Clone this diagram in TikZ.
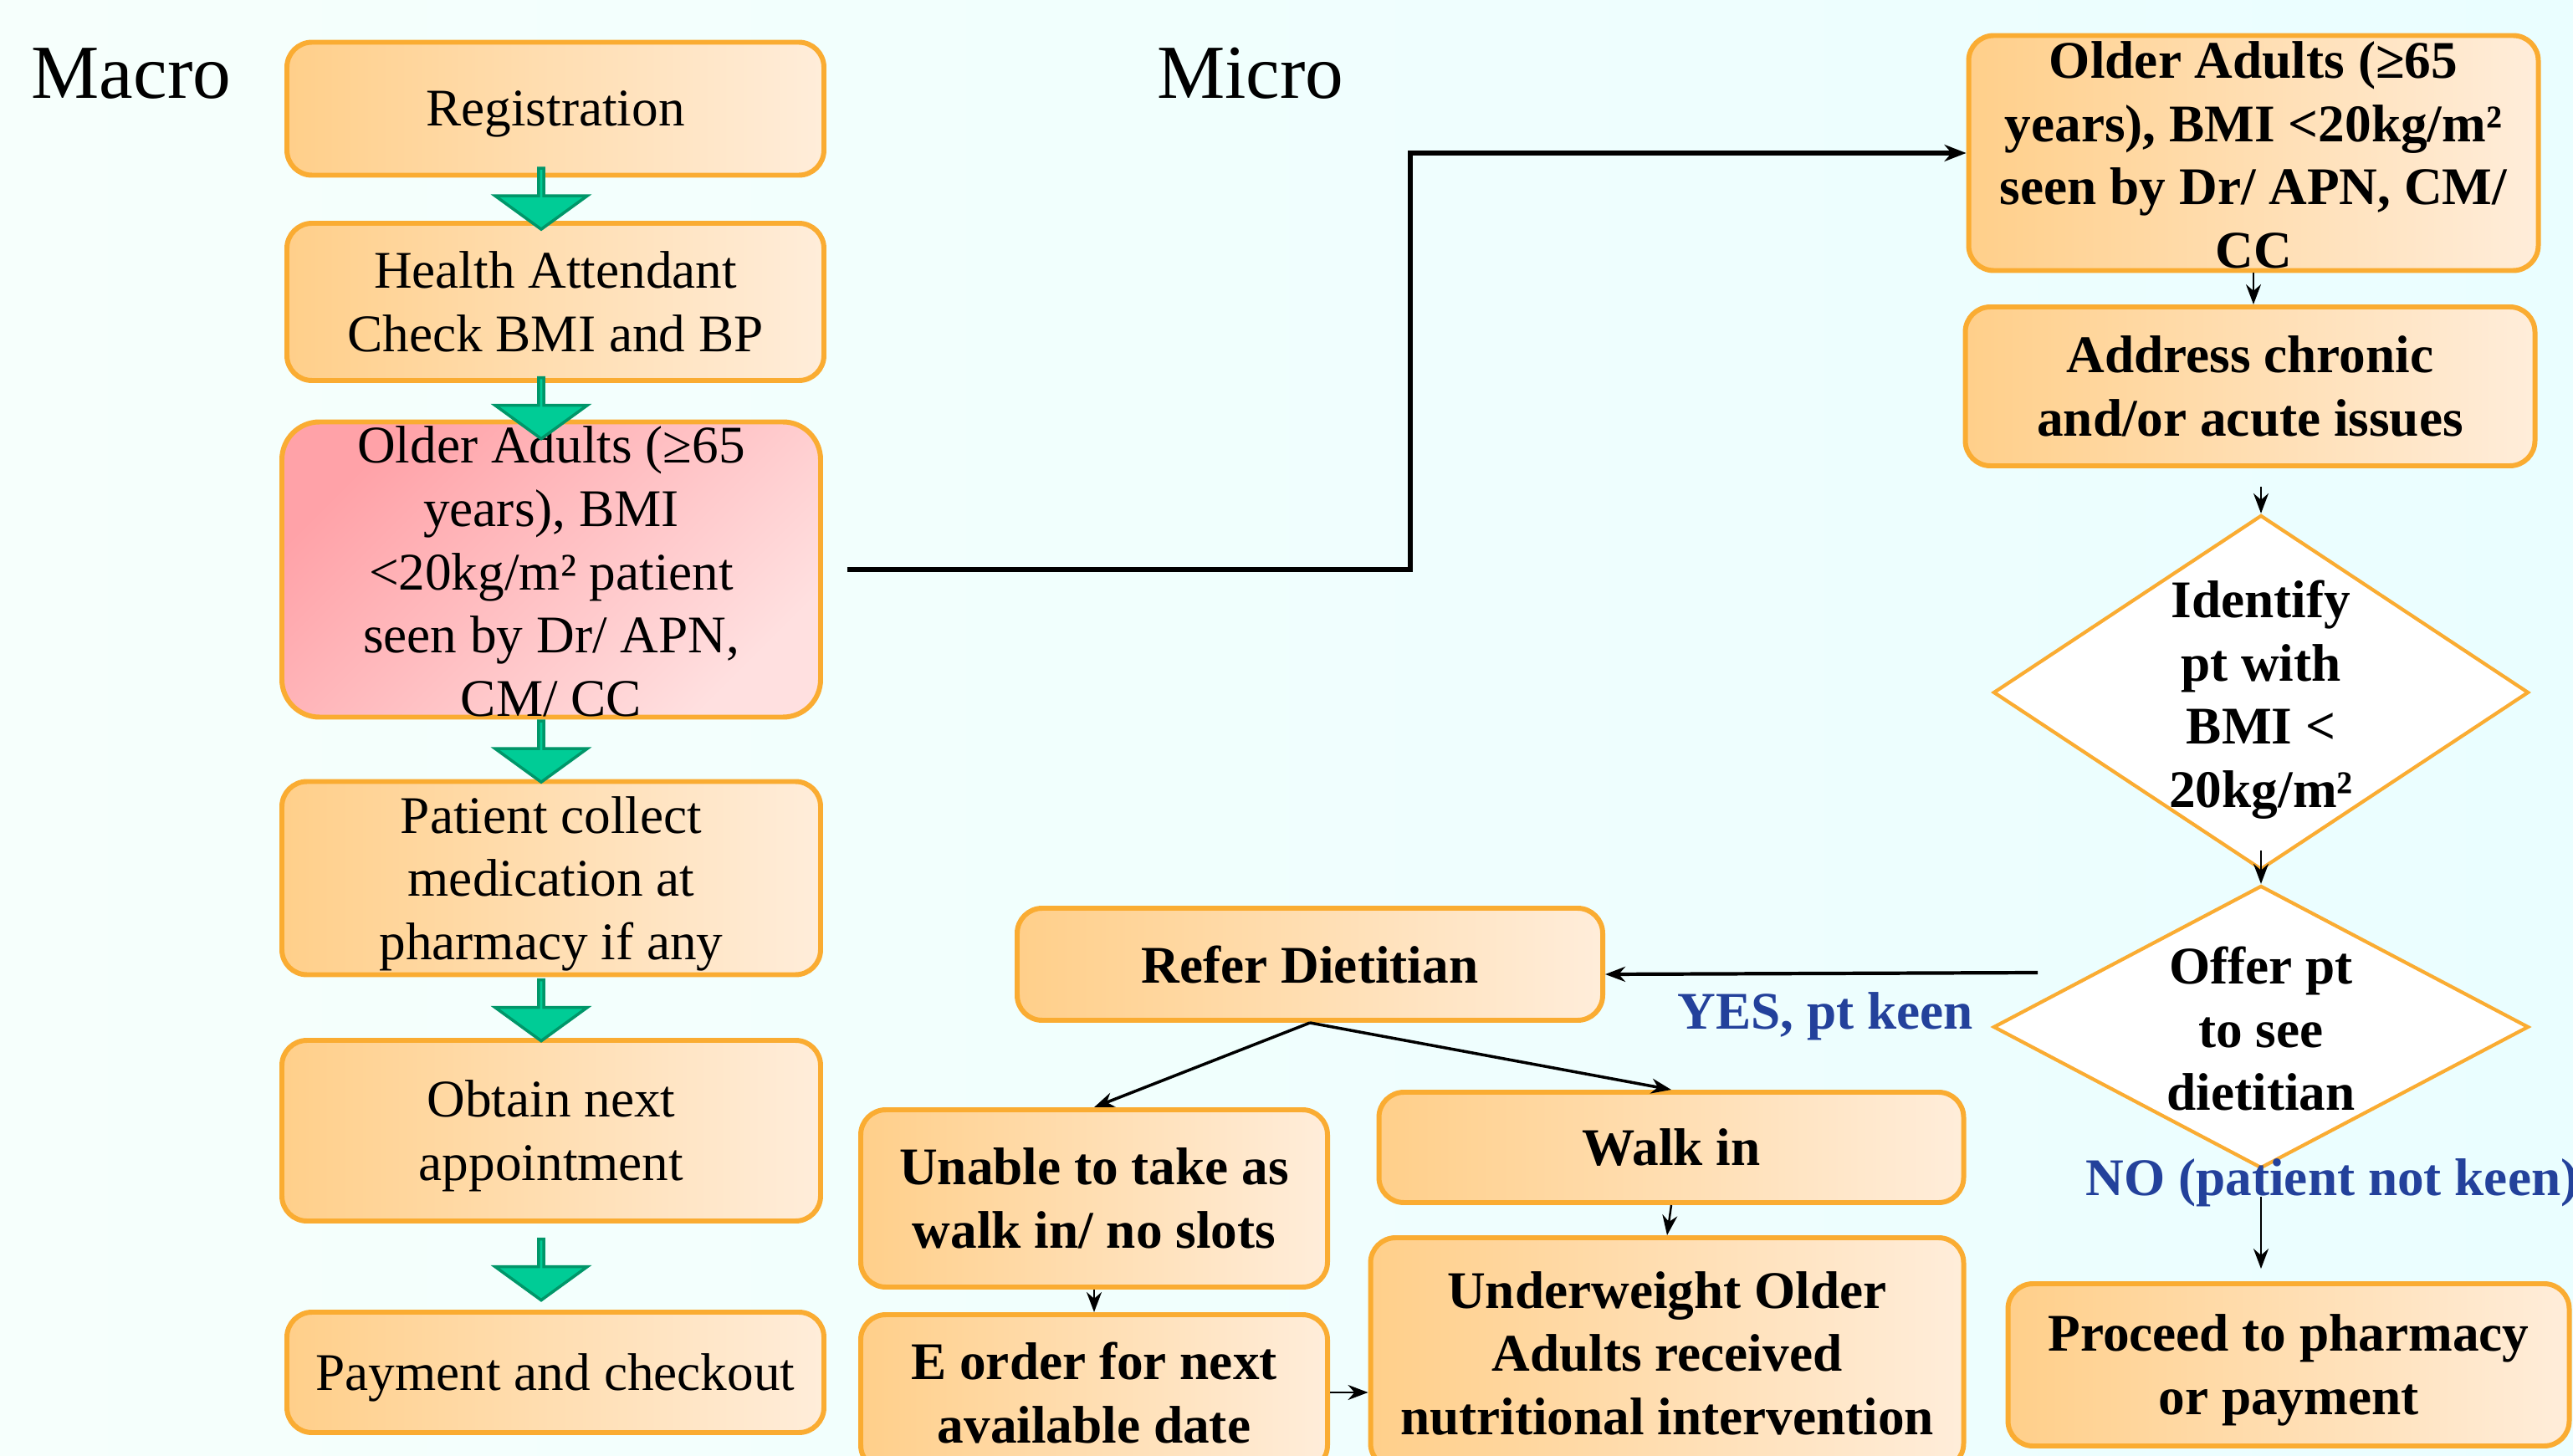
\documentclass[tikz,border=0pt]{standalone}
\usepackage{fontspec}
\setmainfont{Liberation Serif}
\usetikzlibrary{shapes.geometric,shapes.arrows,arrows.meta}
\definecolor{bgleft}{RGB}{246,255,252}
\definecolor{bgright}{RGB}{234,254,255}
\definecolor{boxleft}{RGB}{255,207,138}
\definecolor{boxright}{RGB}{255,237,218}
\definecolor{boxedge}{RGB}{250,172,50}
\definecolor{pinkleft}{RGB}{255,162,168}
\definecolor{pinkright}{RGB}{255,224,224}
\definecolor{greenfill}{RGB}{0,204,150}
\definecolor{greenedge}{RGB}{0,150,105}
\definecolor{answerblue}{RGB}{35,65,155}
\newcommand{\overtext}[1]{\raisebox{-0.38em}[0pt][0pt]{\begin{tabular}{@{}c@{}}#1\end{tabular}}}

\begin{document}
\begin{tikzpicture}[
    box/.style={draw=boxedge,line width=1.7pt,rounded corners=0.3cm,left color=boxleft,right color=boxright,
      align=center,inner sep=2pt,text depth=0pt,font=\fontsize{18}{21.6}\selectfont},
    microbox/.style={box,font=\fontsize{18}{21.6}\selectfont\bfseries},
    pinkbox/.style={box,left color=pinkleft,right color=pinkright,shading angle=45,rounded corners=0.45cm},
    decision/.style={diamond,draw=boxedge,line width=1.2pt,fill=white,inner sep=0pt,
      font=\fontsize{18}{21.6}\selectfont\bfseries},
    greenarrow/.style={single arrow,draw=greenedge,fill=greenfill,line width=1pt,inner sep=0pt,
      minimum width=1.10cm,minimum height=0.73cm,single arrow head extend=0.285cm,
      single arrow tip angle=108,single arrow head indent=0cm,rotate=-90},
    flow/.style={-{Stealth[length=2.4mm,width=1.8mm]},line width=0.7pt},
    answer/.style={text=answerblue,inner sep=0pt,font=\fontsize{18}{21.6}\selectfont\bfseries},
    heading/.style={inner sep=0pt,font=\fontsize{26}{31}\selectfont}]
    \useasboundingbox (0,0) rectangle (30.76,-17.41);
    \fill[left color=bgleft,right color=bgright] (0,0) rectangle (30.76,-17.41);

    \node[heading] (macro) at (1.57,-0.88) {Macro};
    \node[heading] (micro) at (14.95,-0.88) {Micro};

    \node[box,minimum width=6.42cm,minimum height=1.59cm] (reg) at (6.64,-1.30) {Registration};
    \node[box,minimum width=6.42cm,minimum height=1.88cm] (attend) at (6.64,-3.61) {Health Attendant\\Check BMI and BP};
    \node[pinkbox,minimum width=6.44cm,minimum height=3.53cm] (older) at (6.59,-6.81)
      {\overtext{Older Adults (≥65\\years), BMI\\<20kg/m² patient\\seen by Dr/ APN,\\CM/ CC}};
    \node[box,minimum width=6.44cm,minimum height=2.31cm] (collect) at (6.59,-10.50) {Patient collect\\medication at\\pharmacy if any};
    \node[box,minimum width=6.44cm,minimum height=2.16cm] (nextappt) at (6.59,-13.52) {Obtain next\\appointment};
    \node[box,minimum width=6.42cm,minimum height=1.44cm] (checkout) at (6.64,-16.41) {Payment and checkout};
    \foreach \y [count=\i] in {2.365,4.87,8.975,12.07,15.17}{
      \node[greenarrow] (g\i) at (6.47,-\y) {};
    }

    \node[microbox,minimum width=6.81cm,minimum height=2.81cm] (seen) at (26.94,-1.83)
      {\overtext{Older Adults (≥65\\years), BMI <20kg/m²\\seen by Dr/ APN, CM/\\CC}};
    \node[microbox,minimum width=6.81cm,minimum height=1.90cm] (address) at (26.90,-4.62) {Address chronic\\and/or acute issues};
    \node[decision,minimum width=6.40cm,minimum height=4.24cm] (identify) at (27.03,-8.28)
      {\overtext{Identify\\pt with\\BMI <\\20kg/m²}};
    \node[decision,minimum width=6.40cm,minimum height=3.38cm] (offer) at (27.03,-12.28)
      {\overtext{Offer pt\\to see\\dietitian}};
    \node[microbox,minimum width=7.00cm,minimum height=1.34cm] (refer) at (15.66,-11.53) {Refer Dietitian};
    \node[microbox,minimum width=5.58cm,minimum height=2.12cm] (unable) at (13.08,-14.33) {Unable to take as\\walk in/ no slots};
    \node[microbox,minimum width=6.99cm,minimum height=1.32cm] (walkin) at (19.98,-13.72) {Walk in};
    \node[microbox,minimum width=7.09cm,minimum height=2.76cm] (under) at (19.93,-16.18)
      {Underweight Older\\Adults received\\nutritional intervention};
    \node[microbox,minimum width=5.58cm,minimum height=1.86cm] (eorder) at (13.08,-16.65) {E order for next\\available date};
    \node[microbox,minimum width=6.71cm,minimum height=1.94cm] (proceed) at (27.36,-16.32) {Proceed to pharmacy\\or payment};
    \node[answer] (yes) at (21.82,-12.15) {YES, pt keen};
    \node[answer,anchor=west] (no) at (24.93,-14.14) {NO (patient not keen)};

    \draw[-{Stealth[length=2.6mm,width=2mm]},line width=1.8pt] ([xshift=0.29cm]older.east) -- ++(6.73,0) |- (seen.west);
    \coordinate (gap1) at ([yshift=-0.22cm]address.south);
    \coordinate (yesstart) at (24.36,-11.63);
    \draw[flow] (seen.south) -- (seen.south |- address.north);
    \draw[flow] (gap1 -| identify.north) -- (identify.north);
    \draw[flow] ([yshift=0.25cm]identify.south) -- (offer.north);
    \draw[flow,line width=1.2pt] (yesstart) -- ([yshift=-0.12cm]refer.east);
    \draw[flow] ([yshift=-0.32cm]offer.south) -- ++(0,-0.86);
    \draw[flow,line width=1pt] (refer.south) -- (unable.north);
    \draw[flow,line width=1pt] (refer.south) -- (walkin.north);
    \draw[flow] (walkin.south) -- (under.north);
    \draw[flow] (unable.south) -- (eorder.north);
    \draw[flow] (eorder.east) -- (eorder.east -| under.west);
\end{tikzpicture}
\end{document}
